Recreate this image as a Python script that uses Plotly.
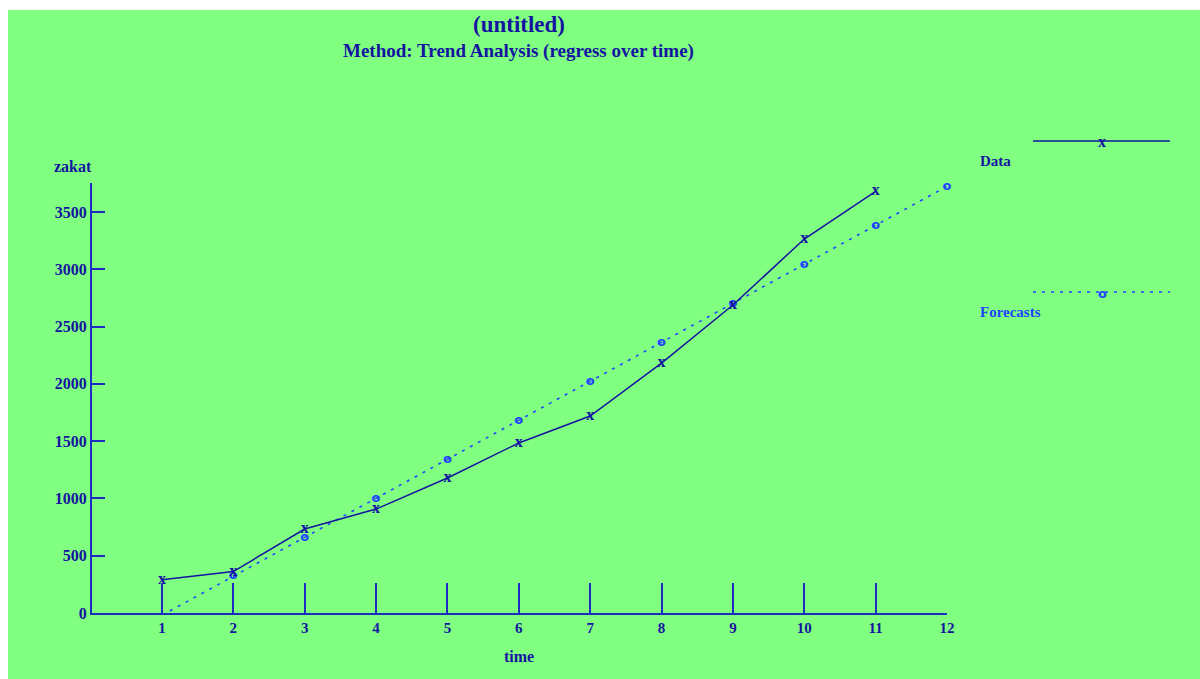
import plotly.graph_objects as go

# ---- data ----
time = [1, 2, 3, 4, 5, 6, 7, 8, 9, 10, 11]
zakat = [290, 362, 733, 907, 1178, 1484, 1719, 2181, 2688, 3264, 3680]
forecast_time = [1, 2, 3, 4, 5, 6, 7, 8, 9, 10, 11, 12]
forecasts = [-20, 321, 661, 1001, 1341, 1682, 2022, 2362, 2703, 3043, 3383, 3724]
x_ticks = [1, 2, 3, 4, 5, 6, 7, 8, 9, 10, 11, 12]
y_ticks = [0, 500, 1000, 1500, 2000, 2500, 3000, 3500]

W, H = 1200, 679
ML, MR, MT, MB = 92, 253, 183, 66
PW, PH = W - ML - MR, H - MT - MB

BG = "#80FF80"
NAVY = "#1414A0"
BLUE = "#2244FF"
AXIS = "#1C2CC0"
SERIF = "Liberation Serif"


def px(x):
    return (x - ML) / PW


def py(y):
    return (H - MB - y) / PH


fig = go.Figure()

fig.add_trace(go.Scatter(
    x=forecast_time, y=forecasts, mode="lines+text", text=["o"] * len(forecasts),
    textposition="middle center", cliponaxis=False,
    textfont=dict(family="DejaVu Sans", size=13, color=BLUE, weight="bold"),
    line=dict(color=BLUE, width=1.6, dash="3px,6px"), showlegend=False,
))
fig.add_trace(go.Scatter(
    x=time, y=zakat, mode="lines+text", text=["x"] * len(zakat),
    textposition="middle center", cliponaxis=False,
    textfont=dict(family=SERIF, size=16, color=NAVY, weight="bold"),
    line=dict(color=NAVY, width=1.5), showlegend=False,
))

shapes = [
    # white border top/left
    dict(type="rect", xref="paper", yref="paper", x0=px(0), x1=px(W), y0=py(10), y1=py(0),
         fillcolor="white", line=dict(width=0), layer="below"),
    dict(type="rect", xref="paper", yref="paper", x0=px(0), x1=px(8), y0=py(H), y1=py(0),
         fillcolor="white", line=dict(width=0), layer="below"),
    # legend lines
    dict(type="line", xref="paper", yref="paper", x0=px(1033), x1=px(1170), y0=py(141), y1=py(141),
         line=dict(color=NAVY, width=1.5)),
    dict(type="line", xref="paper", yref="paper", x0=px(1033), x1=px(1170), y0=py(292), y1=py(292),
         line=dict(color=BLUE, width=1.6, dash="3px,6px")),
]

annotations = [
    dict(text="<b>(untitled)</b>", x=px(519), y=py(24), xref="paper", yref="paper",
         showarrow=False, font=dict(family=SERIF, size=23, color=NAVY), xanchor="center", yanchor="middle"),
    dict(text="<b>Method: Trend Analysis (regress over time)</b>", x=px(518), y=py(51), xref="paper", yref="paper",
         showarrow=False, font=dict(family=SERIF, size=19, color=NAVY), xanchor="center", yanchor="middle"),
    dict(text="<b>zakat</b>", x=px(52), y=py(167), xref="paper", yref="paper", showarrow=False,
         font=dict(family=SERIF, size=16, color=NAVY), xanchor="left", yanchor="middle"),
    dict(text="<b>time</b>", x=px(519), y=py(656), xref="paper", yref="paper", showarrow=False,
         font=dict(family=SERIF, size=16, color=NAVY), xanchor="center", yanchor="middle"),
    dict(text="<b>Data</b>", x=px(978), y=py(161), xref="paper", yref="paper", showarrow=False,
         font=dict(family=SERIF, size=15, color=NAVY), xanchor="left", yanchor="middle"),
    dict(text="<b>Forecasts</b>", x=px(978), y=py(312), xref="paper", yref="paper", showarrow=False,
         font=dict(family=SERIF, size=15, color=BLUE), xanchor="left", yanchor="middle"),
    dict(text="<b>x</b>", x=px(1102), y=py(141), xref="paper", yref="paper", showarrow=False,
         font=dict(family=SERIF, size=16, color=NAVY), xanchor="center", yanchor="middle"),
    dict(text="<b>o</b>", x=px(1102), y=py(293), xref="paper", yref="paper", showarrow=False,
         font=dict(family="DejaVu Sans", size=13, color=BLUE), xanchor="center", yanchor="middle"),
]

fig.update_layout(
    width=W, height=H,
    margin=dict(l=ML, r=MR, t=MT, b=MB, pad=0),
    paper_bgcolor=BG, plot_bgcolor=BG,
    shapes=shapes, annotations=annotations,
    xaxis=dict(range=[0.02, 12], tickvals=x_ticks, ticktext=[str(v) for v in x_ticks],
               showgrid=False, zeroline=False, showline=True, linecolor=AXIS, linewidth=2,
               ticks="inside", ticklen=30, tickwidth=2, tickcolor=AXIS,
               tickfont=dict(family=SERIF, size=15, color=NAVY, weight="bold")),
    yaxis=dict(range=[0, 3753], tickvals=y_ticks, ticktext=[str(v) for v in y_ticks],
               showgrid=False, zeroline=False, showline=True, linecolor=AXIS, linewidth=2,
               ticks="inside", ticklen=13, tickwidth=2, tickcolor=AXIS,
               tickfont=dict(family=SERIF, size=16, color=NAVY, weight="bold")),
)

fig.write_html("out.html")
